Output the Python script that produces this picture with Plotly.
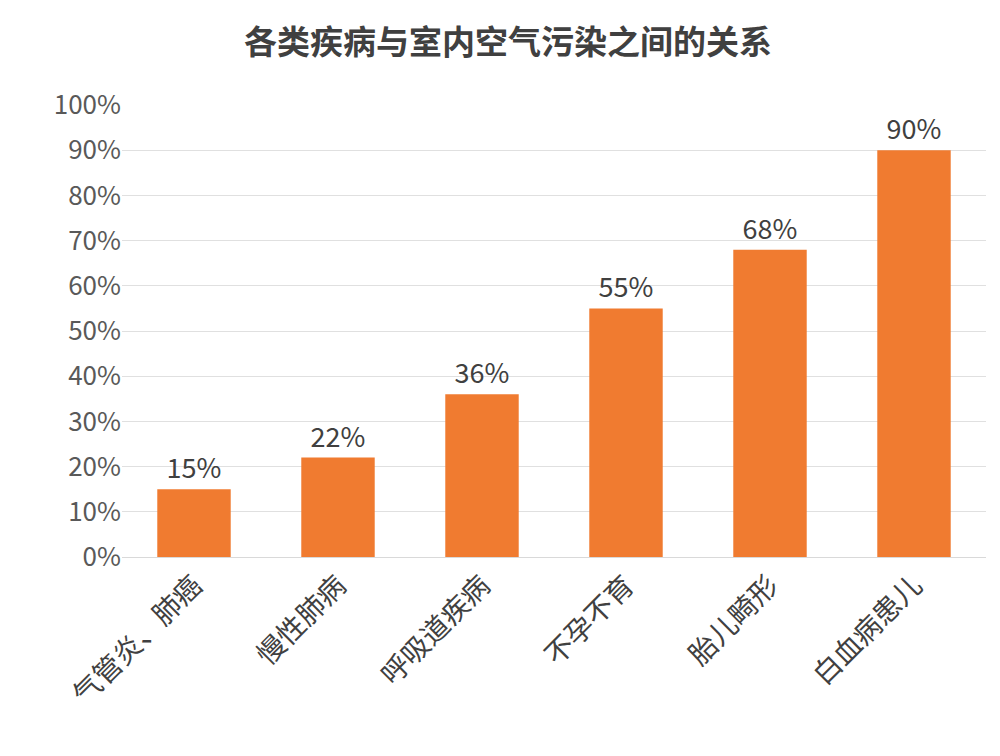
import plotly.graph_objects as go

categories = ["气管炎、肺癌", "慢性肺病", "呼吸道疾病", "不孕不育", "胎儿畸形", "白血病患儿"]
values = [0.15, 0.22, 0.36, 0.55, 0.68, 0.90]
labels = ["15%", "22%", "36%", "55%", "68%", "90%"]

font = "Noto Sans CJK SC"

fig = go.Figure(go.Bar(
    x=categories, y=values, text=labels, textposition="outside",
    textfont=dict(size=27, color="#404040", family=font),
    marker=dict(color="#f07b30", line=dict(width=0)),
    cliponaxis=False,
))

fig.update_layout(
    width=1000, height=756,
    margin=dict(l=114, r=22, t=97, b=207),
    paper_bgcolor="white", plot_bgcolor="white",
    bargap=0.49,
    showlegend=False,
    title=dict(text="<b>各类疾病与室内空气污染之间的关系</b>", x=0.5, xanchor="center",
               y=0.955, yanchor="middle",
               font=dict(size=33, color="#404040", family=font)),
)
fig.update_yaxes(range=[0, 1], dtick=0.1, tickformat=".0%",
                 gridcolor="#e0e0e0", gridwidth=1, zeroline=False,
                 tickfont=dict(size=26, color="#595959", family=font), ticks="", ticklen=0)
fig.update_xaxes(tickangle=-45, showline=True, linecolor="#d9d9d9",
                 tickfont=dict(size=28, color="#404040", family=font))

fig.write_html("out.html")
